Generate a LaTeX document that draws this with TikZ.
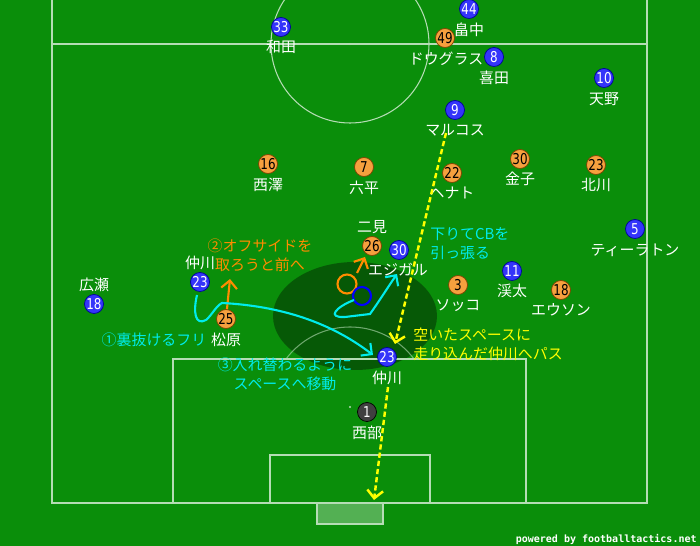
\documentclass[tikz,border=0pt]{standalone}
\usepackage{fontspec}
\setmainfont{Noto Sans CJK JP}
\newfontfamily\numfont[FakeStretch=0.8]{DejaVu Sans}
\newfontfamily\webfont{DejaVu Sans Mono}
\usetikzlibrary{arrows.meta}
\definecolor{pitch}{RGB}{10,142,10}
\definecolor{homeblue}{RGB}{52,52,250}
\definecolor{awayorange}{RGB}{246,160,62}
\definecolor{runcyan}{RGB}{0,236,236}
\definecolor{offorange}{RGB}{255,140,0}
\definecolor{passyellow}{RGB}{255,255,0}

\begin{document}
\begin{tikzpicture}[x=0.02cm,y=-0.02cm]
        \tikzstyle{home}=[circle,draw=blue!60!black,fill=homeblue,text=white,inner sep=0pt,minimum size=0.38cm,font=\numfont\fontsize{8.5}{9}\selectfont]
        \tikzstyle{away}=[home,draw=orange!50!black,fill=awayorange,text=black]
        \tikzstyle{keeper}=[home,draw=black,fill=black!75,text=white]
        \tikzstyle{plname}=[text=white,inner sep=0pt,yshift=-0.04cm,font=\fontsize{8.5}{10}\selectfont]
        \tikzstyle{note}=[inner sep=0pt,font=\fontsize{8.5}{10.8}\selectfont]
        \tikzstyle{pitchline}=[draw=white!70!pitch,line width=0.6pt]
        \tikzstyle{run}=[draw=runcyan,line width=1.2pt,-{Straight Barb[length=4.5pt,width=9pt]}]
        \tikzstyle{offside}=[run,draw=offorange]
        \tikzstyle{pass}=[draw=passyellow,line width=1.4pt,dash pattern=on 3pt off 1.7pt,-{Straight Barb[length=4.5pt,width=9pt]}]
       \useasboundingbox (0,0) rectangle (700,546);
       \fill[pitch] (0,0) rectangle (700,546);
       \fill[black,opacity=0.37] (355,316) ellipse (82 and 54);
       \begin{scope}
         \clip (0,0) rectangle (700,546);
         \draw[pitchline] (52,0) -- (52,503) -- (647,503) -- (647,0);
         \draw[pitchline] (52,44) -- (647,44);
         \draw[pitchline] (350,44) circle (79);
         \fill[white!70!pitch] (350,44) circle (1.2);
         \draw[pitchline] (173,503) -- (173,359) -- (526,359) -- (526,503);
         \draw[pitchline] (270,503) -- (270,455) -- (430,455) -- (430,503);
         \draw[pitchline,fill=white,fill opacity=0.3] (317,503) rectangle (383,524);
         \fill[white!70!pitch] (350,407) circle (1.2);
         \clip (0,0) rectangle (700,359);
         \draw[pitchline,draw opacity=0.6] (350,407) circle (80);
       \end{scope}

       \begin{scope}
         % yokohama
         \node [home] (b33) at (281,27) {33};  \node [plname] (n33) at (281,45) {和田};
         \node [home] (b44) at (469,9) {44};   \node [plname] (n44) at (469,28) {畠中};
         \node [home] (b8) at (494,57) {8};    \node [plname] (n8) at (494,76) {喜田};
         \node [home] (b10) at (604,78) {10};  \node [plname] (n10) at (604,97) {天野};
         \node [home] (b9) at (455,110) {9};   \node [plname] (n9) at (455,128) {マルコス};
         \node [home] (b30) at (399,250) {30}; \node [plname] (n30) at (398,268) {エジガル};
         \node [home] (b11) at (512,271) {11}; \node [plname] (n11) at (512,289) {渓太};
         \node [home] (b5) at (635,229) {5};   \node [plname] (n5) at (635,248) {ティーラトン};
         \node [home] (b23) at (200,282) {23}; \node [plname] (n23) at (200,261) {仲川};
         \node [home] (b18) at (94,304) {18};  \node [plname] (n18) at (94,283) {広瀬};
         \node [home] (b23x) at (387,357) {23}; \node [plname] (n23x) at (387,376) {仲川};
         % sapporo
         \node [away] (o49) at (445,38) {49};  \node [plname] (m49) at (446,57) {ドウグラス};
         \node [away] (o16) at (268,164) {16}; \node [plname] (m16) at (268,183) {西澤};
         \node [away] (o7) at (364,167) {7};   \node [plname] (m7) at (364,186) {六平};
         \node [away] (o22) at (452,173) {22}; \node [plname] (m22) at (452,191) {ヘナト};
         \node [away] (o30) at (520,159) {30}; \node [plname] (m30) at (520,177) {金子};
         \node [away] (o23) at (596,165) {23}; \node [plname] (m23) at (596,183) {北川};
         \node [away] (o26) at (372,246) {26}; \node [plname] (m26) at (372,225) {二見};
         \node [away] (o3) at (458,285) {3};   \node [plname] (m3) at (458,304) {ソッコ};
         \node [away] (o18) at (561,290) {18}; \node [plname] (m18) at (561,308) {エウソン};
         \node [away] (o25) at (226,319) {25}; \node [plname] (m25) at (226,338) {松原};
         \node [keeper] (k1) at (367,412) {1}; \node [plname] (g1) at (367,431) {西部};
       \end{scope}

       \begin{scope}
         \node [draw=offorange,line width=1.2pt,circle,inner sep=0pt,minimum size=0.38cm] (ghost26) at (347,284) {};
         \node [draw=blue,line width=1.2pt,circle,inner sep=0pt,minimum size=0.36cm] (ghost30) at (362,296) {};
         \coordinate (t25) at (230,279);
         \coordinate (f26) at (357,273);
         \coordinate (t26) at (365,257);
         \coordinate (f30) at (354,300);
         \coordinate (t30) at (397,274);
         \coordinate (f23) at (197,295);
         \coordinate (t23) at (373,355);
         \coordinate (p1) at (446,133);
         \coordinate (p2) at (395,344);
         \coordinate (p3) at (388,387);
         \coordinate (p4) at (374,500);

         \draw[offside] (o25) -- (t25);
         \draw[offside] (f26) -- (t26);
         \draw[run] (f30) .. controls (336,307) and (326,318) .. (345,317) -- (370,314) .. controls (380,300) and (388,287) .. (t30);
         \draw[run] (f23) .. controls (193,312) and (195,326) .. (206,320) .. controls (212,315) and (216,306) .. (222,303) .. controls (280,306) and (330,322) .. (t23);
         \draw[pass] (p1) -- (p2);
         \draw[pass] (p3) -- (p4);
       \end{scope}

       \node [note,text=runcyan] (txt1) at (154,340) {①裏抜けるフリ};
       \node [note,text=offorange,align=center] (txt2) at (260,255) {②オフサイドを\\取ろうと前へ};
       \node [note,text=runcyan,align=center] (txt3) at (285,374) {③入れ替わるように\\スペースへ移動};
       \node [note,text=runcyan,align=left,anchor=west] (txt4) at (430,244) {下りてCBを\\引っ張る};
       \node [note,text=passyellow,align=left,anchor=west] (txt5) at (413,344) {空いたスペースに\\走り込んだ仲川へパス};
       \node [text=white,inner sep=0pt,anchor=east,font=\webfont\bfseries\fontsize{5.7}{6}\selectfont] (credit) at (697,539) {powered by footballtactics.net};
      \end{tikzpicture}
\end{document}
